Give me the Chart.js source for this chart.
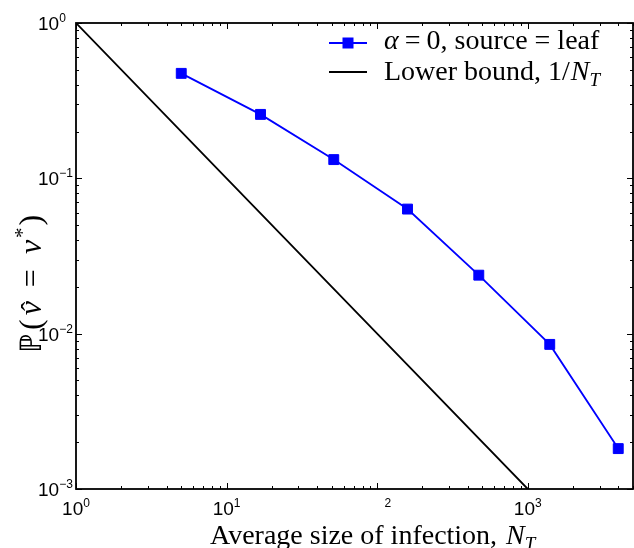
<!DOCTYPE html>
<html>
<head>
<meta charset="utf-8">
<script src="https://cdn.jsdelivr.net/npm/chart.js@4.4.1/dist/chart.umd.min.js"></script>
<style>
  html, body { margin: 0; padding: 0; background: #fff; }
  #wrap { width: 634px; height: 548px; }
</style>
</head>
<body>
<div id="wrap"><canvas id="chart" width="634" height="548"></canvas></div>
<script>
// values (both axes logarithmic)
const leafSizes = [5, 16.8, 51.5, 159, 473, 1400, 3990];
const leafProb = [0.474, 0.258, 0.132, 0.0634, 0.0238, 0.00853, 0.00182];
const boundSizes = [1, 10, 100, 1000];
const boundProb = [1, 0.1, 0.01, 0.001];

// tick labels as [base, exponent]; the 10^2 label only shows its exponent in the original
const xTickValues = [1, 10, 100, 1000];
const xTickLabels = [['10', '0'], ['10', '1'], ['', '2'], ['10', '3']];
const yTickValues = [1, 0.1, 0.01, 0.001];
const yTickLabels = [['10', '0'], ['10', '\u22121'], ['10', '\u22122'], ['10', '\u22123']];

const sans = '"Liberation Sans", Arial, sans-serif';
const serif = '"Liberation Serif", "Times New Roman", serif';

// draw a run of text pieces [text, font, dy, extraGapAfter] starting at x, returns end x
function drawRun(ctx, pieces, x, y) {
  pieces.forEach(p => {
    ctx.font = p[1];
    ctx.fillText(p[0], x, y + (p[2] || 0));
    x += ctx.measureText(p[0]).width + (p[3] || 0);
  });
  return x;
}

function powLabel(ctx, label, x, y, centered) {
  ctx.font = '19px ' + sans;
  const bw = ctx.measureText('10').width;
  ctx.font = '12px ' + sans;
  const ew = ctx.measureText(label[1]).width;
  const left = centered ? x - (bw + ew) / 2 : x;
  ctx.font = '19px ' + sans;
  if (label[0]) ctx.fillText(label[0], left, y);
  ctx.font = '12px ' + sans;
  ctx.fillText(label[1], left + bw, y - 8);
}

const axesPlugin = {
  id: 'axesPlugin',
  afterDatasetsDraw(chart) {
    const ctx = chart.ctx;
    const a = chart.chartArea;
    const xs = chart.scales.x, ys = chart.scales.y;
    ctx.save();
    ctx.strokeStyle = '#000';
    ctx.fillStyle = '#000';

    // ticks pointing inward on all four sides
    ctx.lineWidth = 1;
    ctx.beginPath();
    for (let d = 1; d <= 1000; d *= 10) {
      for (let k = 1; k <= 9; k++) {
        const v = d * k;
        if (v > xs.max) break;
        const px = Math.round(xs.getPixelForValue(v)) + 0.5;
        const len = k === 1 ? 6 : 3;
        ctx.moveTo(px, a.bottom); ctx.lineTo(px, a.bottom - len);
        ctx.moveTo(px, a.top); ctx.lineTo(px, a.top + len);
      }
    }
    for (let d = 0.001; d < 1.5; d *= 10) {
      for (let k = 1; k <= 9; k++) {
        const v = d * k;
        if (v > ys.max * 1.0001) break;
        const py = Math.round(ys.getPixelForValue(v)) + 0.5;
        const len = k === 1 ? 6 : 3;
        ctx.moveTo(a.left, py); ctx.lineTo(a.left + len, py);
        ctx.moveTo(a.right, py); ctx.lineTo(a.right - len, py);
      }
    }
    ctx.stroke();

    // frame
    ctx.lineWidth = 1.8;
    ctx.strokeRect(a.left, a.top, a.right - a.left, a.bottom - a.top);

    // tick labels
    ctx.textAlign = 'left';
    ctx.textBaseline = 'alphabetic';
    xTickValues.forEach((v, i) => powLabel(ctx, xTickLabels[i], xs.getPixelForValue(v), a.bottom + 26, true));
    yTickValues.forEach((v, i) => powLabel(ctx, yTickLabels[i], 38, ys.getPixelForValue(v) + 7, false));

    // x title
    drawRun(ctx, [
      ['Average size of infection, ', '28px ' + serif, 0, 2],
      ['N', 'italic 28px ' + serif],
      ['T', 'italic 19px ' + serif, 6]
    ], 210, 544);

    // y title, rotated
    ctx.save();
    ctx.translate(41, 353);
    ctx.rotate(-Math.PI / 2);
    let x = drawRun(ctx, [['\u2119', '30px ' + serif, 0, 3], ['(', '32px ' + serif, 0, 4]], 0, 0);
    ctx.font = 'italic 32px ' + serif;
    const vw = ctx.measureText('v').width;
    ctx.fillText('v', x, 0);
    ctx.font = '28px ' + serif;
    ctx.textAlign = 'center';
    ctx.fillText('\u02c6', x + vw / 2 + 2, -1);
    ctx.textAlign = 'left';
    x += vw + 14;
    drawRun(ctx, [
      ['=', '32px ' + serif, 0, 15],
      ['v', 'italic 32px ' + serif, 0, 2],
      ['*', '21px ' + serif, -12, 2],
      [')', '32px ' + serif]
    ], x, 0);
    ctx.restore();

    // legend
    ctx.lineWidth = 1.8;
    ctx.strokeStyle = '#0000ff';
    ctx.beginPath(); ctx.moveTo(329, 43); ctx.lineTo(367, 43); ctx.stroke();
    ctx.fillStyle = '#0000ff';
    ctx.fillRect(348 - 5.5, 43 - 5.5, 11, 11);
    ctx.strokeStyle = '#000';
    ctx.beginPath(); ctx.moveTo(329, 72); ctx.lineTo(367, 72); ctx.stroke();
    ctx.fillStyle = '#000';
    drawRun(ctx, [
      ['\u03b1', 'italic 28px ' + serif, 0, 6],
      ['=', '28px ' + serif, 0, 6],
      ['0, source = leaf', '28px ' + serif]
    ], 384, 49);
    drawRun(ctx, [
      ['Lower bound, ', '28px ' + serif, 0, 0],
      ['1', '28px ' + serif, 0, 0],
      ['/', '28px ' + serif, 0, 1],
      ['N', 'italic 28px ' + serif, 0, 0],
      ['T', 'italic 19px ' + serif, 6]
    ], 384, 80);
    ctx.restore();
  }
};

new Chart(document.getElementById('chart').getContext('2d'), {
  type: 'line',
  data: {
    datasets: [
      {
        label: 'alpha = 0, source = leaf',
        data: leafSizes.map((s, i) => ({ x: s, y: leafProb[i] })),
        borderColor: '#0000ff',
        backgroundColor: '#0000ff',
        borderWidth: 1.8,
        pointStyle: 'rect',
        pointRadius: 7,
        pointBorderWidth: 1,
        tension: 0
      },
      {
        label: 'Lower bound, 1/N_T',
        data: boundSizes.map((s, i) => ({ x: s, y: boundProb[i] })),
        borderColor: '#000',
        borderWidth: 1.8,
        pointRadius: 0,
        tension: 0
      }
    ]
  },
  options: {
    responsive: false,
    animation: false,
    layout: { autoPadding: false, padding: { left: 76, right: 1, top: 23, bottom: 59 } },
    scales: {
      x: { type: 'logarithmic', min: 1, max: 5000, display: false },
      y: { type: 'logarithmic', min: 0.001, max: 1, display: false }
    },
    plugins: {
      legend: { display: false },
      tooltip: { enabled: false }
    }
  },
  plugins: [axesPlugin]
});
</script>
</body>
</html>
